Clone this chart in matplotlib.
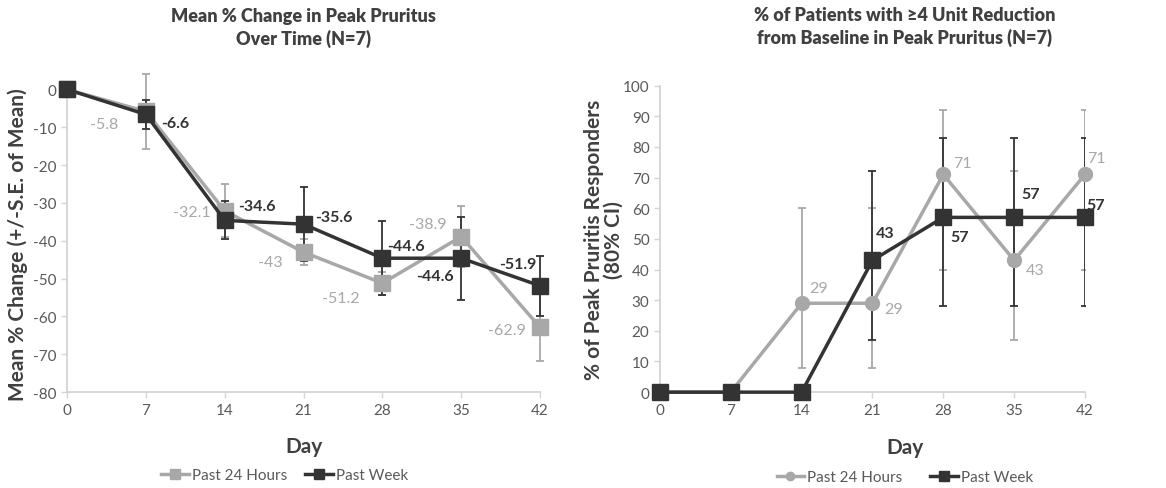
import numpy as np
import matplotlib
matplotlib.use("Agg")
import matplotlib.pyplot as plt

plt.rcParams['font.family'] = ['Lato', 'DejaVu Sans']
plt.rcParams['axes.unicode_minus'] = False

days = [0, 7, 14, 21, 28, 35, 42]

# left panel: mean % change
chg_24h = [0, -5.8, -32.1, -43, -51.2, -38.9, -62.9]
chg_week = [0, -6.6, -34.6, -35.6, -44.6, -44.6, -51.9]
se_24h = [0, 10, 7, 3.4, 3, 8, 8.8]
se_week = [0, 3.8, 5, 9.7, 9.8, 11, 7.9]

# right panel: % responders with 80% CI
resp_24h = [0, 0, 29, 29, 71, 43, 71]
resp_week = [0, 0, 0, 43, 57, 57, 57]
ci_24h_lo = [np.nan, np.nan, 8, 8, 40, 17, 40]
ci_24h_hi = [np.nan, np.nan, 60, 60, 92, 72, 92]
ci_week_lo = [np.nan, np.nan, np.nan, 17, 28, 28, 28]
ci_week_hi = [np.nan, np.nan, np.nan, 72, 83, 83, 83]

GRAY = '#a8a8a8'
DARK = '#333333'
AXC = '#d4d4d4'
TXT = '#595959'

# label offsets (points) for each point
off_l_24 = [None, (-30, -9), (-24, -1), (-24, -7), (-30, -11), (-24, 9), (-24, -2)]
off_l_wk = [None, (21, -6), (23, 10), (22, 5), (17, 9), (-19, -13), (-16, 16)]
off_r_24 = [None, None, (12, 11), (15, -4), (14, 8), (15, -7), (8, 12)]
off_r_wk = [None, None, None, (9, 20), (12, -14), (12, 17), (8, 9)]

fig = plt.figure(figsize=(11.66, 4.89), dpi=100)
ax1 = fig.add_axes([0.0575, 0.196, 0.4057, 0.619])
ax2 = fig.add_axes([0.566, 0.196, 0.3645, 0.627])


def style_axes(ax):
    for s in ['top', 'right']:
        ax.spines[s].set_visible(False)
    for s in ['left', 'bottom']:
        ax.spines[s].set_color(AXC)
        ax.spines[s].set_linewidth(1.3)
    ax.tick_params(colors=AXC, labelcolor=TXT, labelsize=11, length=4, width=1)
    ax.set_xlim(0, 42)
    ax.set_xticks(days)


def label_points(ax, xs, ys, offs, color, bold):
    for x, y, o in zip(xs, ys, offs):
        if o is None:
            continue
        txt = f"{y:g}"
        ax.annotate(txt, (x, y), xytext=o, textcoords='offset points',
                    ha='center', va='center', fontsize=11.5, color=color,
                    fontweight='bold' if bold else 'normal', annotation_clip=False)


# ---- left ----
style_axes(ax1)
ax1.set_ylim(-80, 0)
ax1.set_yticks(range(-80, 1, 10))
ax1.errorbar(days[1:], chg_24h[1:], yerr=se_24h[1:], fmt='none', ecolor=GRAY,
             elinewidth=1.3, capsize=3, capthick=1.3, zorder=2, clip_on=False)
ax1.errorbar(days[1:], chg_week[1:], yerr=se_week[1:], fmt='none', ecolor=DARK,
             elinewidth=1.3, capsize=3, capthick=1.3, zorder=3, clip_on=False)
ax1.plot(days, chg_24h, color=GRAY, lw=2.5, marker='s', ms=11, label='Past 24 Hours',
         zorder=4, clip_on=False)
ax1.plot(days, chg_week, color=DARK, lw=2.5, marker='s', ms=11, label='Past Week',
         zorder=5, clip_on=False)
label_points(ax1, days, chg_24h, off_l_24, GRAY, False)
label_points(ax1, days, chg_week, off_l_wk, DARK, True)
ax1.set_title('Mean % Change in Peak Pruritus\nOver Time (N=7)', fontsize=13,
              fontweight='heavy', color='#404040', pad=33, linespacing=1.3)
ax1.set_xlabel('Day', fontsize=15, fontweight='bold', color='#404040')
ax1.xaxis.set_label_coords(0.5, -0.145)
ax1.set_ylabel('Mean % Change (+/-S.E. of Mean)', fontsize=15, fontweight='bold',
               color='#404040')
ax1.yaxis.set_label_coords(-0.082, 0.49)
ax1.legend(loc='center', bbox_to_anchor=(0.46, -0.275), ncol=2, frameon=False,
           fontsize=11, labelcolor=TXT, handlelength=1.8, handletextpad=0.2,
           columnspacing=1.2, markerscale=0.6)

# ---- right ----
style_axes(ax2)
ax2.set_ylim(0, 100)
ax2.set_yticks(range(0, 101, 10))
r24 = np.array(resp_24h, float)
rwk = np.array(resp_week, float)
e24 = [r24 - np.array(ci_24h_lo), np.array(ci_24h_hi) - r24]
ewk = [rwk - np.array(ci_week_lo), np.array(ci_week_hi) - rwk]
ax2.errorbar(days, r24, yerr=e24, fmt='none', ecolor=GRAY, elinewidth=1.3,
             capsize=3, capthick=1.3, zorder=2)
ax2.errorbar(days, rwk, yerr=ewk, fmt='none', ecolor=DARK, elinewidth=1.3,
             capsize=3, capthick=1.3, zorder=3)
ax2.plot(days, resp_24h, color=GRAY, lw=2.5, marker='o', ms=10, label='Past 24 Hours',
         zorder=4, clip_on=False)
ax2.plot(days, resp_week, color=DARK, lw=2.5, marker='s', ms=11, label='Past Week',
         zorder=5, clip_on=False)
label_points(ax2, days, resp_24h, off_r_24, GRAY, False)
label_points(ax2, days, resp_week, off_r_wk, DARK, True)
ax2.set_title('% of Patients with \u22654 Unit Reduction\nfrom Baseline in Peak Pruritus (N=7)',
              fontsize=13, fontweight='heavy', color='#404040', pad=31, x=0.576,
              linespacing=1.3)
ax2.set_xlabel('Day', fontsize=15, fontweight='bold', color='#404040')
ax2.xaxis.set_label_coords(0.576, -0.145)
ax2.set_ylabel('% of Peak Pruritis Responders\n(80% CI)', fontsize=15,
               fontweight='bold', color='#404040', linespacing=1.0)
ax2.yaxis.set_label_coords(-0.085, 0.5)
ax2.legend(loc='center', bbox_to_anchor=(0.576, -0.277), ncol=2, frameon=False,
           fontsize=11, labelcolor=TXT, handlelength=1.8, handletextpad=0.2,
           columnspacing=1.8, markerscale=0.6)

fig.savefig('out.png', dpi=100, facecolor='white')
